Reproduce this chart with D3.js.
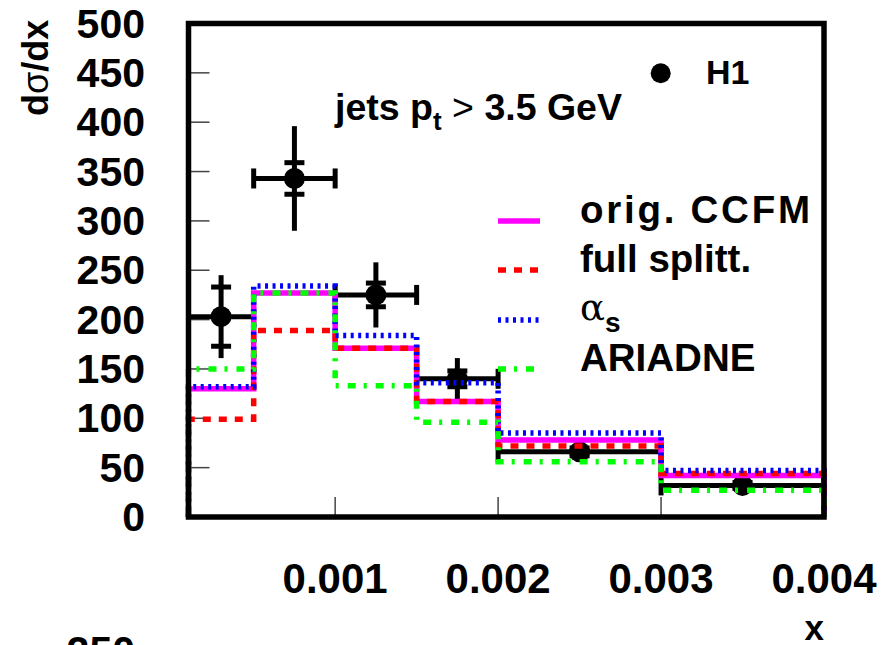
<!DOCTYPE html>
<html>
<head>
<meta charset="utf-8">
<script src="https://cdn.jsdelivr.net/npm/d3@7"></script>
<style>
  body { margin: 0; background: #fff; }
  text { font-family: "Liberation Sans", Arial, sans-serif; font-weight: bold; fill: #000; }
</style>
</head>
<body>
<div id="chart"></div>
<script>
// bin edges in x and the H1 points (one per bin)
var binEdges = [0.0001, 0.0005, 0.001, 0.0015, 0.002, 0.003, 0.004];
var h1Values = [203, 343, 225, 140, 66, 32];
var h1Stat = [30, 16, 12, 8, 4, 3];
var h1Total = [42, 53, 33, 21, 8, 5];

// MC predictions, one value per bin
var ccfmOrig = [130, 227, 171, 117, 78, 42];
var fullSplit = [99, 189, 171, 117, 72, 44];
var alphaS = [132, 234, 184, 136, 85, 47];
var ariadne = [150, 227, 133, 96, 56, 27];

var yTicks = [0, 50, 100, 150, 200, 250, 300, 350, 400, 450, 500];
var xTicks = [0.001, 0.002, 0.003, 0.004];

var W = 884, H = 645;

var svg = d3.select("#chart")
  .append("svg")
    .attr("width", W)
    .attr("height", H)

var x = d3.scaleLinear().domain([0.0001, 0.004]).range([188.5, 824]);
var y = d3.scaleLinear().domain([0, 500]).range([517, 23.5]);

// tick marks inside the frame
svg.append("g")
  .selectAll("line")
  .data(yTicks)
  .enter()
  .append("line")
    .attr("x1", x(0.0001))
    .attr("x2", x(0.0001) + 21)
    .attr("y1", function(d) { return y(d); })
    .attr("y2", function(d) { return y(d); })
    .attr("stroke", "#444")
    .attr("stroke-width", 1.5)

svg.append("g")
  .selectAll("line")
  .data(xTicks.slice(0, 3))
  .enter()
  .append("line")
    .attr("x1", function(d) { return x(d); })
    .attr("x2", function(d) { return x(d); })
    .attr("y1", y(0))
    .attr("y2", y(0) - 20)
    .attr("stroke", "#444")
    .attr("stroke-width", 1.5)

// tick labels
svg.append("g")
  .selectAll("text")
  .data(yTicks)
  .enter()
  .append("text")
    .attr("x", 145)
    .attr("y", function(d) { return y(d) + 14; })
    .attr("text-anchor", "end")
    .style("font-size", "41px")
    .text(function(d) { return d; })

svg.append("g")
  .selectAll("text")
  .data(xTicks)
  .enter()
  .append("text")
    .attr("x", function(d) { return x(d); })
    .attr("y", 593)
    .attr("text-anchor", "middle")
    .style("font-size", "42px")
    .text(function(d) { return d3.format(".3f")(d); })

// H1 data: error bars and markers
var pts = h1Values.map(function(v, i) {
  return {v: v, lo: binEdges[i], hi: binEdges[i + 1], c: (binEdges[i] + binEdges[i + 1]) / 2, st: h1Stat[i], tot: h1Total[i]};
});

var dat = svg.append("g").attr("stroke", "#000").attr("stroke-width", 5);
pts.forEach(function(p) {
  dat.append("line").attr("x1", x(p.lo)).attr("x2", x(p.hi)).attr("y1", y(p.v)).attr("y2", y(p.v));
  dat.append("line").attr("x1", x(p.lo)).attr("x2", x(p.lo)).attr("y1", y(p.v) - 10).attr("y2", y(p.v) + 10);
  dat.append("line").attr("x1", x(p.hi)).attr("x2", x(p.hi)).attr("y1", y(p.v) - 10).attr("y2", y(p.v) + 10);
  dat.append("line").attr("x1", x(p.c)).attr("x2", x(p.c)).attr("y1", y(p.v + p.tot)).attr("y2", y(p.v - p.tot));
  [p.v + p.st, p.v - p.st].forEach(function(e) {
    dat.append("line").attr("x1", x(p.c) - 10).attr("x2", x(p.c) + 10).attr("y1", y(e)).attr("y2", y(e));
  });
  dat.append("circle").attr("cx", x(p.c)).attr("cy", y(p.v)).attr("r", 10.5).attr("fill", "#000").attr("stroke", "none");
});

// histogram outline of a series, closed down to zero at both ends
function histPath(vals) {
  var p = d3.path();
  p.moveTo(x(binEdges[0]), y(0));
  vals.forEach(function(v, i) {
    p.lineTo(x(binEdges[i]), y(v));
    p.lineTo(x(binEdges[i + 1]), y(v));
  });
  p.lineTo(x(binEdges[binEdges.length - 1]), y(0));
  return p.toString();
}

var series = [
  {name: "orig. CCFM", vals: ccfmOrig, color: "#ff00ff", dash: null},
  {name: "full splitt.", vals: fullSplit, color: "#ff0000", dash: "8,8"},
  {name: "alpha", vals: alphaS, color: "#0000ff", dash: "3,4.5"},
  {name: "ARIADNE", vals: ariadne, color: "#00ff00", dash: "8,8,3,9"}
];

svg.append("g")
  .selectAll("path")
  .data(series)
  .enter()
  .append("path")
    .attr("d", function(d) { return histPath(d.vals); })
    .attr("fill", "none")
    .attr("stroke", function(d) { return d.color; })
    .attr("stroke-width", 5.5)
    .attr("stroke-dasharray", function(d) { return d.dash; })

// frame
svg.append("rect")
  .attr("x", x(0.0001))
  .attr("y", y(500))
  .attr("width", x(0.004) - x(0.0001))
  .attr("height", y(0) - y(500))
  .attr("fill", "none")
  .attr("stroke", "#000")
  .attr("stroke-width", 5.5)

// legend
var legY = [221, 270, 320, 369];
svg.append("g")
  .selectAll("line")
  .data(series)
  .enter()
  .append("line")
    .attr("x1", 498)
    .attr("x2", 540)
    .attr("y1", function(d, i) { return legY[i]; })
    .attr("y2", function(d, i) { return legY[i]; })
    .attr("stroke", function(d) { return d.color; })
    .attr("stroke-width", 5.5)
    .attr("stroke-dasharray", function(d) { return d.dash; })

var legText = svg.append("g").style("font-size", "38.5px");
legText.append("text").attr("x", 580).attr("y", legY[0] + 2)
  .attr("textLength", 230).attr("lengthAdjust", "spacing").text("orig. CCFM");
legText.append("text").attr("x", 580).attr("y", legY[1] + 2).text("full splitt.");
var al = legText.append("text").attr("x", 580).attr("y", legY[2]);
al.append("tspan").style("font-weight", "normal").style("font-family", "'DejaVu Serif', serif").style("font-size", "37px").text("α");
al.append("tspan").attr("dy", 12).style("font-size", "28px").text("s");
legText.append("text").attr("x", 580).attr("y", legY[3] + 2).text("ARIADNE");

svg.append("circle").attr("cx", 660.7).attr("cy", 73.3).attr("r", 10).attr("fill", "#000");
svg.append("text").attr("x", 706).attr("y", 84).style("font-size", "34px").text("H1");

var jets = svg.append("text").attr("x", 335).attr("y", 120).style("font-size", "37.5px");
jets.append("tspan").text("jets p");
jets.append("tspan").attr("dy", 10).style("font-size", "26px").text("t");
jets.append("tspan").attr("dy", -10).style("font-weight", "normal").text(" > ");
jets.append("tspan").text("3.5 GeV");

// axis titles
var yt = svg.append("text")
  .attr("transform", "translate(48,116) rotate(-90)")
  .style("font-size", "36px")
yt.append("tspan").text("d");
yt.append("tspan").style("font-weight", "normal").text("σ");
yt.append("tspan").text("/dx");

svg.append("text").attr("x", 824).attr("y", 640).attr("text-anchor", "end").style("font-size", "35px").text("x");

// label of the panel below, cut by the page edge
svg.append("text").attr("x", 135).attr("y", 665).attr("text-anchor", "end").style("font-size", "41px").text("250");
</script>
</body>
</html>
